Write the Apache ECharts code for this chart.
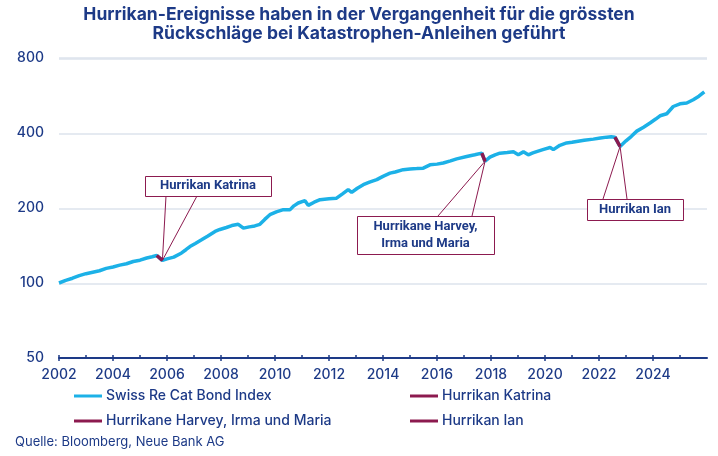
<!DOCTYPE html>
<html>
<head>
<meta charset="utf-8">
<script src="https://cdn.jsdelivr.net/npm/echarts@6/dist/echarts.min.js"></script>
<style>
html,body{margin:0;padding:0;background:#fff;}
#chart{width:718px;height:456px;}
</style>
</head>
<body>
<div id="chart"></div>
<script>
// ---- data ----
const indexYears = [
  2002.00,2002.25,2002.50,2002.75,2003.00,2003.25,2003.50,2003.75,2004.00,2004.25,2004.50,2004.75,
  2005.00,2005.25,2005.45,2005.62,2005.83,2006.00,2006.25,2006.54,2006.70,2006.85,2007.05,2007.28,
  2007.50,2007.78,2007.96,2008.20,2008.40,2008.64,2008.83,2009.05,2009.25,2009.44,2009.62,2009.81,
  2010.05,2010.31,2010.56,2010.70,2010.86,2011.11,2011.23,2011.45,2011.67,2012.00,2012.28,2012.50,
  2012.71,2012.84,2013.05,2013.27,2013.50,2013.77,2014.00,2014.26,2014.45,2014.75,2015.00,2015.25,
  2015.49,2015.74,2016.00,2016.23,2016.50,2016.73,2017.10,2017.40,2017.66,2017.78,2017.96,2018.15,
  2018.33,2018.60,2018.83,2019.01,2019.20,2019.38,2019.55,2019.69,2019.95,2020.19,2020.31,2020.55,
  2020.80,2021.00,2021.17,2021.45,2021.79,2022.05,2022.29,2022.45,2022.59,2022.78,2023.00,2023.20,
  2023.40,2023.65,2023.89,2024.10,2024.26,2024.51,2024.75,2025.00,2025.25,2025.49,2025.70,2025.90
];
const indexValues = [
  100,102.5,104.5,107,109,110.5,112,114.5,116,118,119.5,122,
  123.5,126,127.5,129,123.2,125,127,132,136,140,144,149,
  154,161,164,167,170,172,166,168,169.5,172,180,188,
  193,197,197,204,209.5,214,205,211,216,218,219,228,
  237,231,240,248,254,260,268,276,279,285,287,288,
  289,298,300,303,309,315,322,327,332,308,320,327,
  332,334,336,327,336,327,333,337,344,350,343,357,
  365,367,370,374,378,382,385,386,385,353,372,388,
  407,422,439,455,469,478,511,524,528,544,562,585
];
const katrinaYears = [2005.62, 2005.83];
const katrinaValues = [129, 123.2];
const harveyYears = [2017.66, 2017.78];
const harveyValues = [332, 308];
const ianYears = [2022.59, 2022.78];
const ianValues = [385, 353];
const yTicks = [50, 100, 200, 400, 800];
const xLabelYears = [2002,2004,2006,2008,2010,2012,2014,2016,2018,2020,2022,2024];
const xMinorYears = [2002,2003,2004,2005,2006,2007,2008,2009,2010,2011,2012,2013,2014,2015,2016,2017,2018,2019,2020,2021,2022,2023,2024,2025];

const seriesNames = ['Swiss Re Cat Bond Index','Hurrikan Katrina','Hurrikane Harvey, Irma und Maria','Hurrikan Ian'];
const titleText = 'Hurrikan-Ereignisse haben in der Vergangenheit für die grössten\nRückschläge bei Katastrophen-Anleihen geführt';
const sourceText = 'Quelle: Bloomberg, Neue Bank AG';

const zip = (xs, ys) => xs.map((x, i) => [x, ys[i]]);

const NAVY = '#1d3a87';
const BLUE = '#1cb1e7';
const MAG = '#8c1a4f';
const GRID = '#dde3ec';
const FONT = 'Inter';
const BOXFONT = 'Roboto';

const chart = echarts.init(document.getElementById('chart'), null, {renderer: 'canvas'});

function yLabel(v) {
  let val = v;
  if (val < 20) val = Math.pow(2, val); // in case a log-space value is passed
  const t = yTicks.find(t => Math.abs(t - val) / t < 2e-2);
  return t ? String(t) : '';
}

const option = {
  backgroundColor: '#fff',
  animation: false,
  title: [
    {
      text: titleText, left: 'center', top: 5, padding: 0,
      textStyle: {fontFamily: FONT, fontSize: 17.5, fontWeight: 'bold', color: NAVY, lineHeight: 19, align: 'center'}
    },
    {
      text: sourceText, left: 15, top: 436, padding: 0,
      textStyle: {fontFamily: FONT, fontSize: 13, fontWeight: 'normal', color: NAVY}
    }
  ],
  grid: {left: 59, right: 11, top: 58, bottom: 98},
  legend: [
    {
      data: [seriesNames[0], seriesNames[2]], orient: 'vertical', left: 74, top: 389,
      icon: 'rect', itemWidth: 28, itemHeight: 3, itemGap: 11, padding: 0,
      textStyle: {fontFamily: FONT, fontSize: 14, fontWeight: 500, color: NAVY, padding: [0,0,0,-1]},
      selectedMode: false
    },
    {
      data: [seriesNames[1], seriesNames[3]], orient: 'vertical', left: 410, top: 389,
      icon: 'rect', itemWidth: 28, itemHeight: 3, itemGap: 11, padding: 0,
      textStyle: {fontFamily: FONT, fontSize: 14, fontWeight: 500, color: NAVY, padding: [0,0,0,-1]},
      selectedMode: false
    }
  ],
  xAxis: [
    {
      type: 'value', min: 2002, max: 2026, interval: 2, position: 'bottom',
      axisLine: {show: true, lineStyle: {color: NAVY, width: 2}},
      axisTick: {show: true, length: 3, inside: false, customValues: xLabelYears, lineStyle: {color: NAVY, width: 1.5}},
      axisLabel: {
        customValues: xLabelYears, margin: 10,
        fontFamily: FONT, fontSize: 14, fontWeight: 500, color: NAVY,
        formatter: v => (v <= 2024 && v % 2 === 0) ? String(v) : ''
      },
      splitLine: {show: false}
    },
    {
      type: 'value', min: 2002, max: 2026, interval: 1, position: 'bottom', offset: 0,
      axisLine: {show: false},
      axisTick: {show: true, length: 3, inside: true, customValues: xMinorYears, lineStyle: {color: NAVY, width: 1.5}},
      axisLabel: {show: false},
      splitLine: {show: false}
    }
  ],
  yAxis: {
    type: 'log', logBase: 2, min: 50, max: 800, interval: 1,
    axisLine: {show: false},
    axisTick: {show: false},
    axisLabel: {margin: 15, fontFamily: FONT, fontSize: 14, fontWeight: 500, color: NAVY, formatter: yLabel},
    splitLine: {show: true, lineStyle: {color: GRID, width: 1.5}}
  },
  series: [
    {
      name: seriesNames[0], type: 'line', xAxisIndex: 0, data: zip(indexYears, indexValues),
      showSymbol: false, symbol: 'none', smooth: false,
      lineStyle: {color: BLUE, width: 3.5}, itemStyle: {color: BLUE}, z: 2
    },
    {
      name: seriesNames[1], type: 'line', xAxisIndex: 0, data: zip(katrinaYears, katrinaValues),
      showSymbol: false, symbol: 'none',
      lineStyle: {color: MAG, width: 3.5}, itemStyle: {color: MAG}, z: 3
    },
    {
      name: seriesNames[2], type: 'line', xAxisIndex: 0, data: zip(harveyYears, harveyValues),
      showSymbol: false, symbol: 'none',
      lineStyle: {color: MAG, width: 3.5}, itemStyle: {color: MAG}, z: 3
    },
    {
      name: seriesNames[3], type: 'line', xAxisIndex: 0, data: zip(ianYears, ianValues),
      showSymbol: false, symbol: 'none',
      lineStyle: {color: MAG, width: 3.5}, itemStyle: {color: MAG}, z: 3
    }
  ]
};
chart.setOption(option);

// ---- annotations (anchors from the chart's own scales) ----
function px(x, y) { return chart.convertToPixel({xAxisIndex: 0, yAxisIndex: 0}, [x, y]); }
const aK = px(katrinaYears[1], katrinaValues[1]);
const aH = px(harveyYears[1], harveyValues[1]);
const aI = px(ianYears[1], ianValues[1]);

const boxFont = 'bold 13px ' + BOXFONT;
function callout(box, attachY, xs, anchor, lines) {
  const els = [];
  els.push({type: 'polyline', z: 100, shape: {points: [[xs[0], attachY], anchor, [xs[1], attachY]]},
    style: {stroke: MAG, lineWidth: 1, fill: null}});
  els.push({type: 'rect', z: 101, shape: {x: box[0] + 0.5, y: box[1] + 0.5, width: box[2], height: box[3]},
    style: {fill: '#fff', stroke: MAG, lineWidth: 1}});
  const cx = box[0] + box[2] / 2;
  const lh = 17;
  const y0 = box[1] + box[3] / 2 - (lines.length - 1) * lh / 2;
  lines.forEach((t, i) => {
    els.push({type: 'text', z: 102, style: {text: t, x: cx, y: y0 + i * lh, align: 'center', verticalAlign: 'middle',
      font: boxFont, fill: NAVY}});
  });
  return els;
}
const graphics = [].concat(
  callout([145, 176, 126, 20], 196, [166, 197], aK, ['Hurrikan Katrina']),
  callout([357, 216, 137, 38], 216, [438, 472], aH, ['Hurrikane Harvey,', 'Irma und Maria']),
  callout([587, 199, 96, 21], 199, [603, 627], aI, ['Hurrikan Ian'])
);
chart.setOption({graphic: graphics});
</script>
</body>
</html>
